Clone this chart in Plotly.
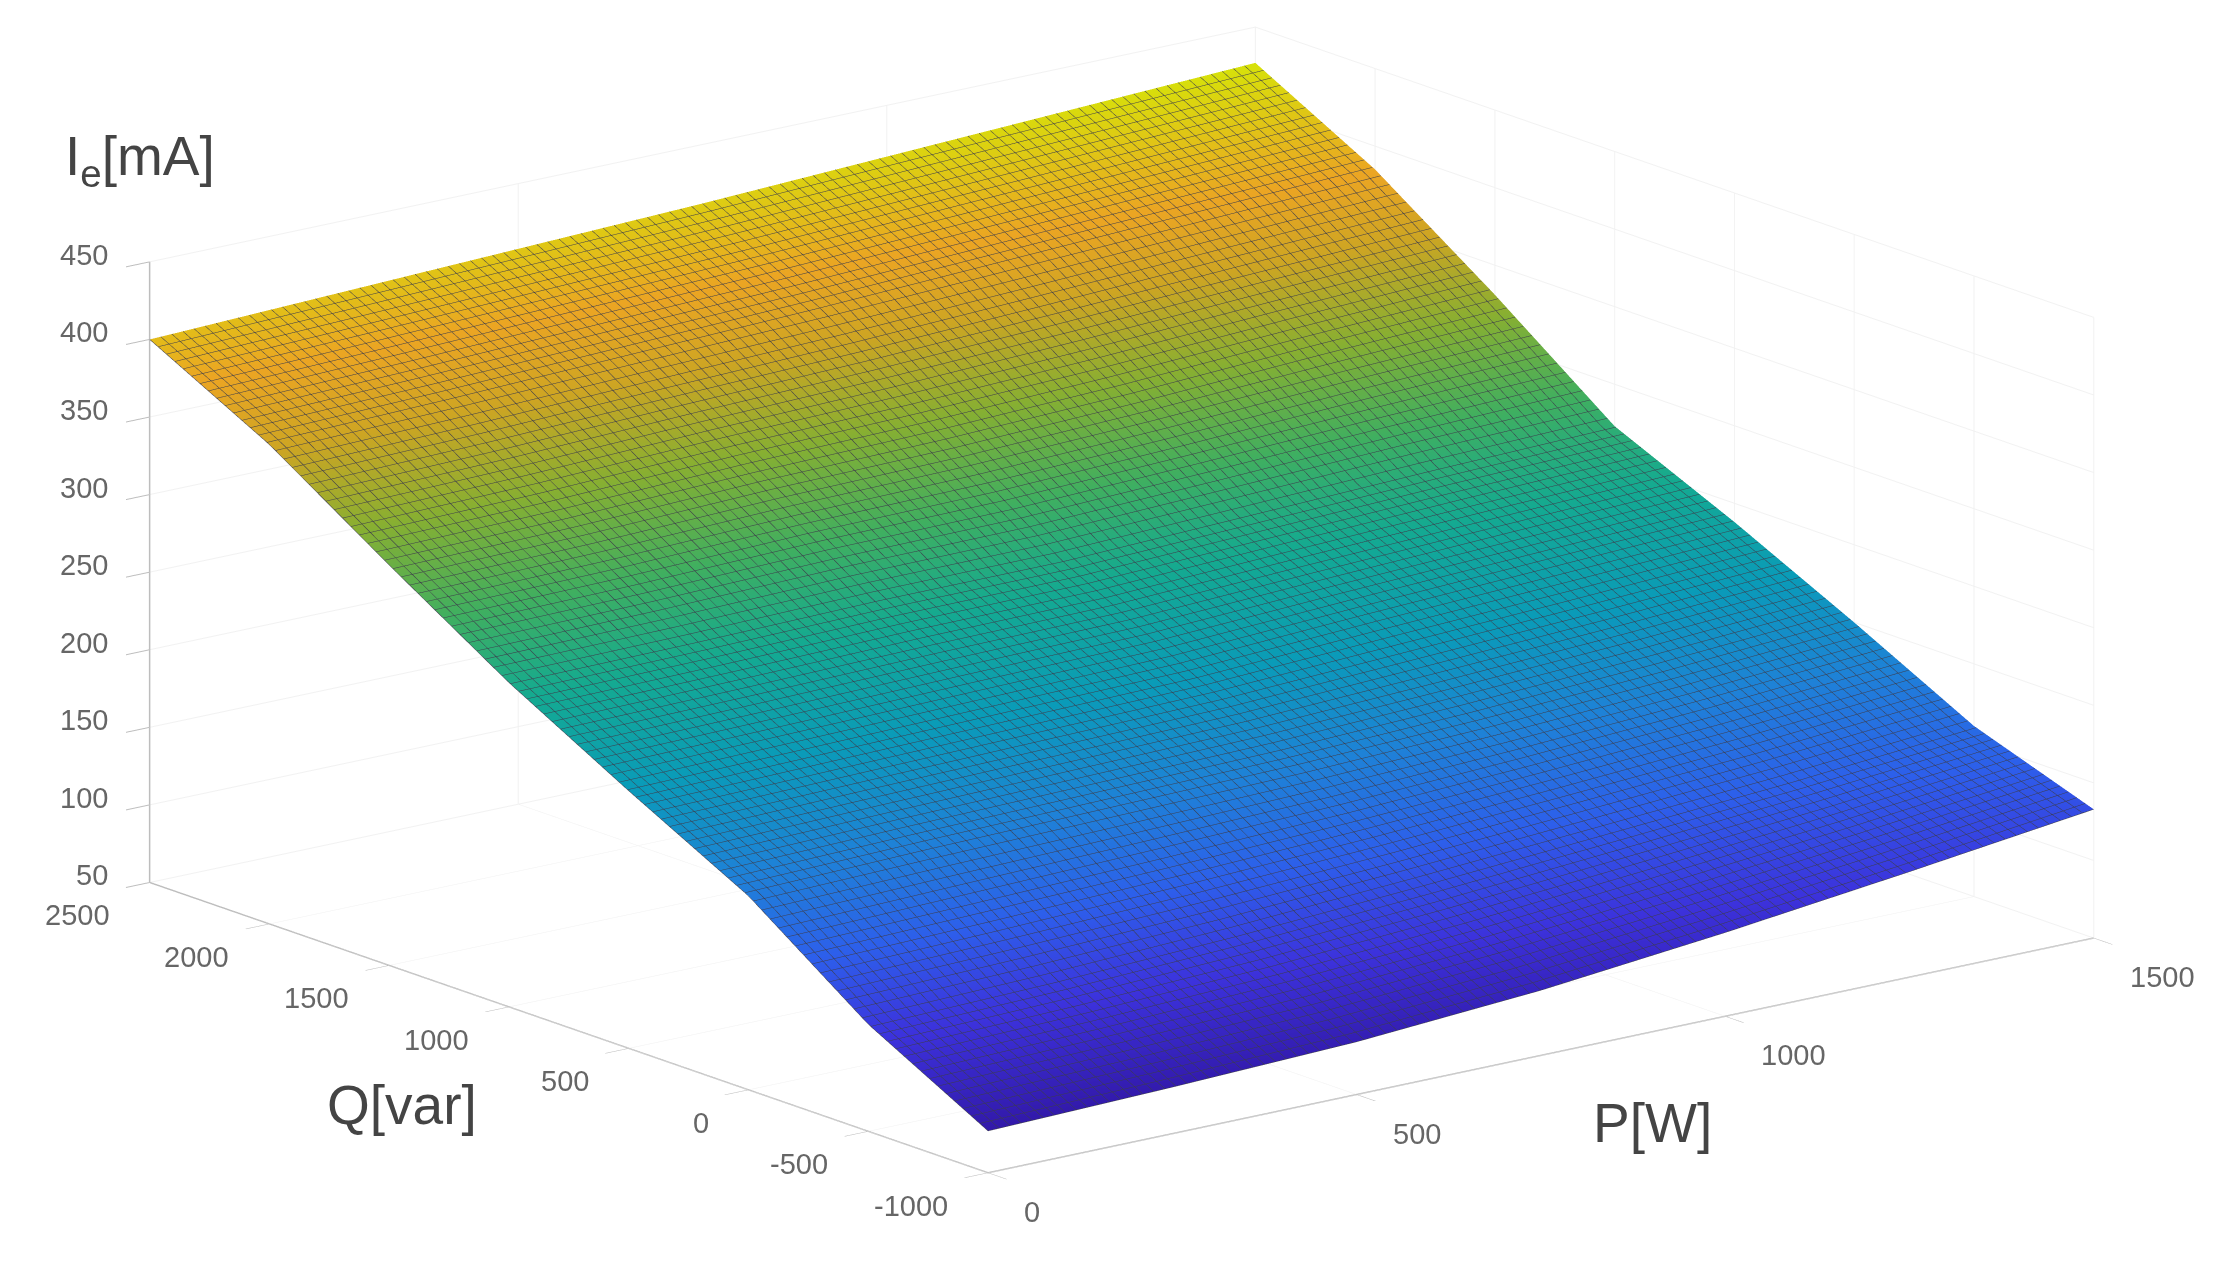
import plotly.graph_objects as go

P_W = [0, 250, 500, 750, 1000, 1250, 1500]
Q_var = [-1000, -500, 0, 500, 1000, 1500, 2000, 2500]
Ie_mA = [
    [77, 80, 84, 92, 104, 118, 133],
    [119, 122, 127, 134, 142, 150, 160],
    [175, 178, 180, 182, 186, 192, 200],
    [216, 218, 220, 222, 228, 233, 238],
    [259, 260, 262, 262, 266, 270, 273],
    [308, 310, 314, 316, 320, 326, 331],
    [359, 362, 366, 370, 375, 380, 385],
    [400, 404, 408, 412, 417, 422, 427],
]
P_ticks = [0, 500, 1000, 1500]
Q_ticks = [-1000, -500, 0, 500, 1000, 1500, 2000, 2500]
Z_ticks = [50, 100, 150, 200, 250, 300, 350, 400, 450]

parula = [
    [0.00, "rgb(50,25,170)"], [0.10, "rgb(60,50,220)"], [0.20, "rgb(45,95,235)"],
    [0.30, "rgb(30,130,215)"], [0.40, "rgb(10,155,185)"], [0.50, "rgb(20,170,145)"],
    [0.60, "rgb(65,175,95)"], [0.70, "rgb(135,175,50)"], [0.80, "rgb(205,165,35)"],
    [0.88, "rgb(235,165,35)"], [1.00, "rgb(215,225,10)"],
]

tick_font = dict(family="Liberation Sans, Arial, sans-serif", size=29, color="#666666")


def axis(rng, ticks):
    return dict(
        range=rng, tickvals=ticks, showticklabels=False, title=dict(text=""),
        showgrid=True, gridcolor="#f1f1f1", gridwidth=2, showline=True, linecolor="#bdbdbd",
        linewidth=3, zeroline=False, showbackground=False, ticks="outside", ticklen=30,
        tickcolor="#bdbdbd", tickwidth=2, showspikes=False,
    )


def tick_label(value, x, y, z, xanchor, xshift, yshift):
    return dict(text=str(value), x=x, y=y, z=z, showarrow=False, xanchor=xanchor, yanchor="middle",
                xshift=xshift, yshift=yshift, font=tick_font)


scene_labels = (
    [tick_label(v, v, Q_ticks[0], Z_ticks[0], "left", 34, -39) for v in P_ticks]
    + [tick_label(v, P_ticks[0], v, Z_ticks[0], "right", -38, -33) for v in Q_ticks]
    + [tick_label(v, P_ticks[0], Q_ticks[-1], v, "right", -40, 7) for v in Z_ticks]
)

fig = go.Figure(go.Surface(
    x=P_W, y=Q_var, z=Ie_mA, colorscale=parula, cmin=77, cmax=427, showscale=False,
    lighting=dict(ambient=1, diffuse=0, specular=0, roughness=1, fresnel=0),
    contours=dict(
        x=dict(show=True, start=0, end=1500, size=15, color="rgb(60,60,75)", width=1),
        y=dict(show=True, start=-1000, end=2500, size=35, color="rgb(60,60,75)", width=1),
    ),
))

cx, cy, cz = 0.003, -0.002, -0.069
far = 6
title_font = dict(family="Liberation Sans, Arial, sans-serif", size=55, color="#444444")


def label(text, px, py):
    return dict(text=text, x=px / 2232, y=1 - py / 1268, xref="paper", yref="paper",
                xanchor="center", yanchor="middle", showarrow=False, font=title_font)


fig.update_layout(
    width=2232, height=1268, margin=dict(l=0, r=0, t=0, b=0),
    paper_bgcolor="white", showlegend=False,
    scene=dict(
        domain=dict(x=[0, 1], y=[0, 1]),
        xaxis=axis([0, 1500], P_ticks),
        yaxis=axis([-1000, 2500], Q_ticks),
        zaxis=axis([50, 450], Z_ticks),
        aspectmode="manual", aspectratio=dict(x=2.215, y=2.145, z=1.017),
        camera=dict(eye=dict(x=-0.534 * far + cx, y=-0.682 * far + cy, z=0.244 * far + cz),
                    center=dict(x=cx, y=cy, z=cz),
                    up=dict(x=0, y=0, z=1), projection=dict(type="orthographic")),
        annotations=scene_labels,
    ),
    annotations=[
        label("I<sub>e</sub>[mA]", 132, 152),
        label("Q[var]", 394, 1097),
        label("P[W]", 1644, 1115),
    ],
)
fig.write_html("out.html")
